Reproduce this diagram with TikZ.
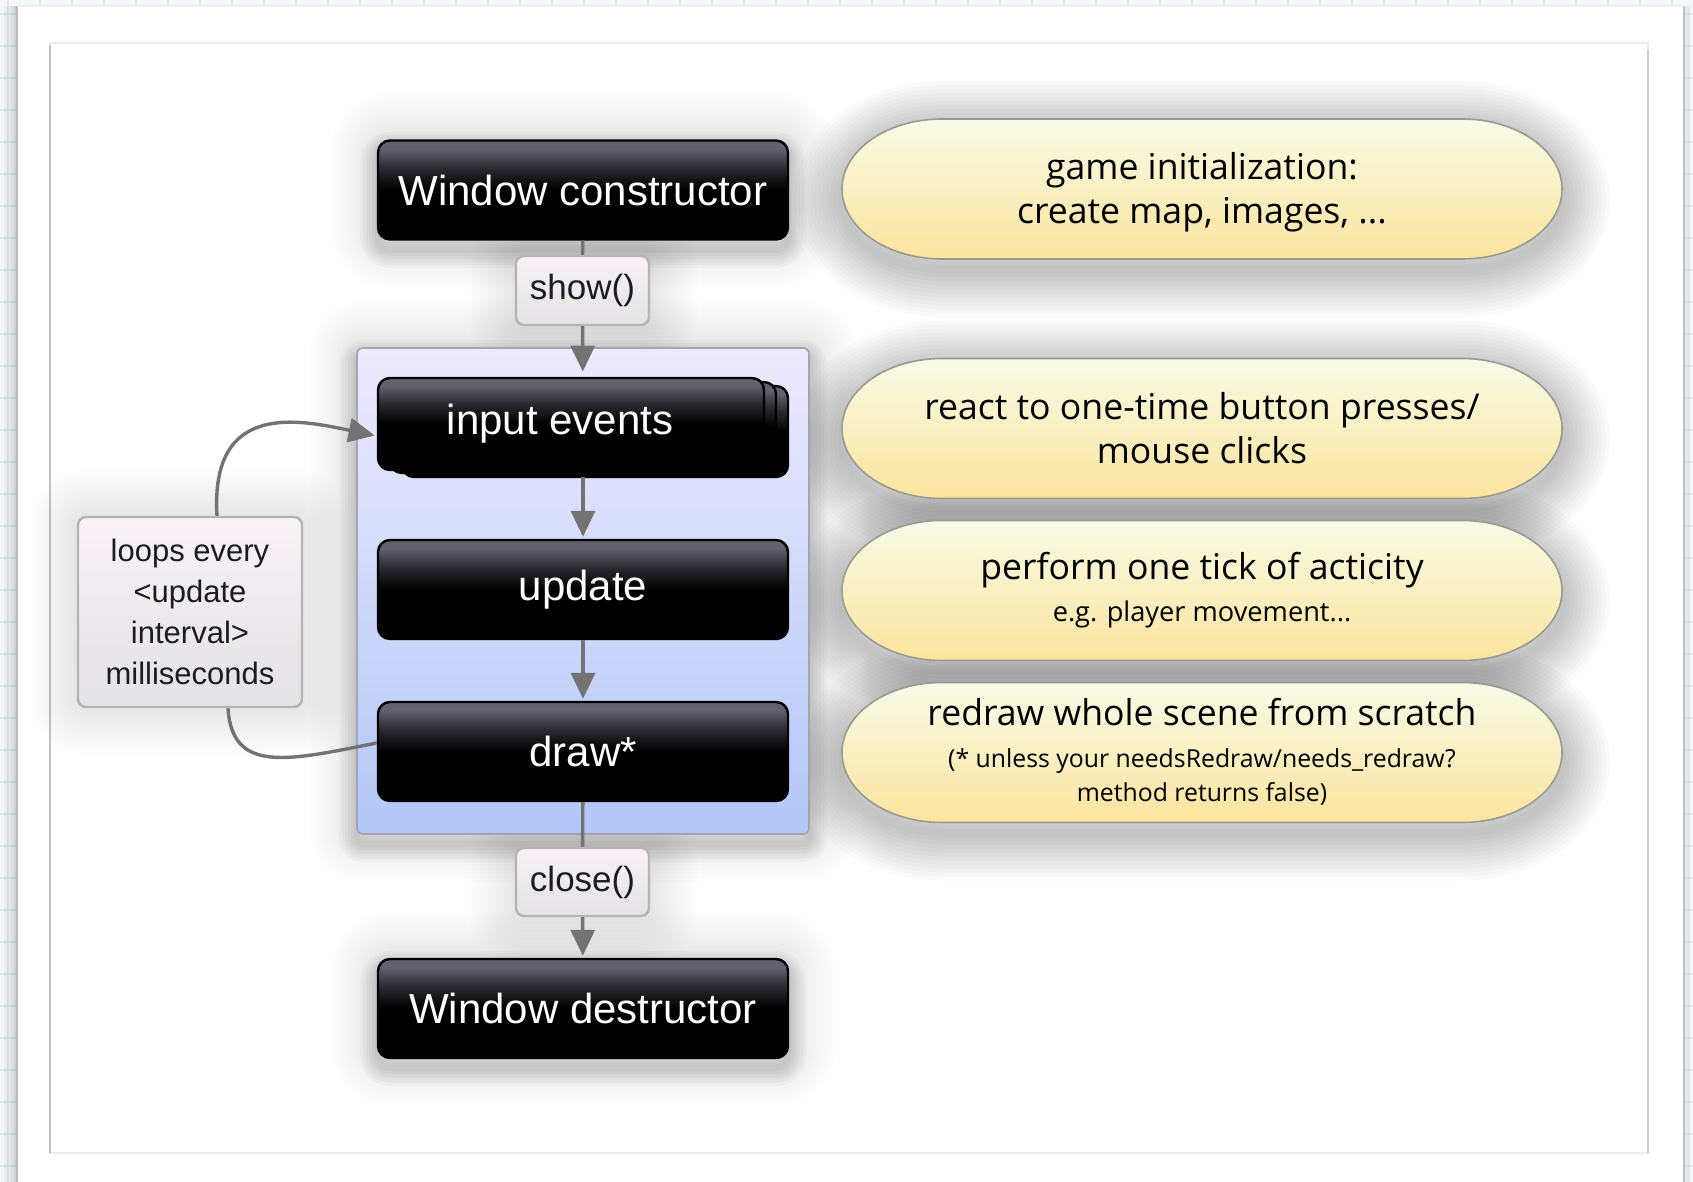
\documentclass[tikz,border=0pt]{standalone}
\usepackage{fontspec}
\setmainfont{Liberation Sans}
\newfontfamily\pillfont{Open Sans}
\usetikzlibrary{arrows.meta,calc}
\definecolor{gridbg}{HTML}{F3F7F9}
\definecolor{gridline}{HTML}{DCE8EE}
\definecolor{arrowgray}{HTML}{737373}
\definecolor{lavtop}{HTML}{EEEAFD}
\definecolor{lavbot}{HTML}{B2C7F8}
\definecolor{lavborder}{HTML}{A3A3B3}
\definecolor{labtop}{HTML}{F9F2F6}
\definecolor{labbot}{HTML}{E3E2E4}
\definecolor{labborder}{HTML}{B4B4B4}
\definecolor{pilltop}{HTML}{F7FBE7}
\definecolor{pillbot}{HTML}{FBE49E}
\definecolor{pillborder}{HTML}{9A9A90}
\definecolor{txt}{HTML}{1C1C24}
\definecolor{glossA}{HTML}{63616D}
\definecolor{glossB}{HTML}{2A2930}
\pgfdeclareverticalshading{blackgloss}{100bp}{color(0bp)=(black); color(50bp)=(black); color(61bp)=(glossB); color(71bp)=(glossA); color(75bp)=(glossA); color(100bp)=(glossA)}
\tikzset{
  halo/.style={
    preaction={draw=black, draw opacity=0.007, line width=48pt, line join=round},
    preaction={draw=black, draw opacity=0.007, line width=44pt, line join=round},
    preaction={draw=black, draw opacity=0.007, line width=40pt, line join=round},
    preaction={draw=black, draw opacity=0.007, line width=36pt, line join=round},
    preaction={draw=black, draw opacity=0.007, line width=32pt, line join=round},
    preaction={draw=black, draw opacity=0.007, line width=28pt, line join=round},
    preaction={draw=black, draw opacity=0.007, line width=24pt, line join=round},
    preaction={draw=black, draw opacity=0.007, line width=20pt, line join=round},
    preaction={draw=black, draw opacity=0.007, line width=16pt, line join=round},
    preaction={draw=black, draw opacity=0.007, line width=12pt, line join=round},
    preaction={draw=black, draw opacity=0.007, line width=8pt, line join=round},
    preaction={draw=black, draw opacity=0.007, line width=4pt, line join=round}},
  dropshadow/.style={
    preaction={draw=black, draw opacity=0.022, line width=18pt, line join=round, transform canvas={yshift=-5pt}},
    preaction={draw=black, draw opacity=0.022, line width=15pt, line join=round, transform canvas={yshift=-5pt}},
    preaction={draw=black, draw opacity=0.022, line width=12pt, line join=round, transform canvas={yshift=-5pt}},
    preaction={draw=black, draw opacity=0.022, line width=9pt, line join=round, transform canvas={yshift=-5pt}},
    preaction={draw=black, draw opacity=0.022, line width=6pt, line join=round, transform canvas={yshift=-5pt}},
    preaction={draw=black, draw opacity=0.022, line width=3pt, line join=round, transform canvas={yshift=-5pt}}},
  pillshadow/.style={
    preaction={draw=black, draw opacity=0.02, line width=48pt, line join=round, transform canvas={yshift=-5pt}},
    preaction={draw=black, draw opacity=0.02, line width=44pt, line join=round, transform canvas={yshift=-5pt}},
    preaction={draw=black, draw opacity=0.02, line width=40pt, line join=round, transform canvas={yshift=-5pt}},
    preaction={draw=black, draw opacity=0.02, line width=36pt, line join=round, transform canvas={yshift=-5pt}},
    preaction={draw=black, draw opacity=0.02, line width=32pt, line join=round, transform canvas={yshift=-5pt}},
    preaction={draw=black, draw opacity=0.02, line width=28pt, line join=round, transform canvas={yshift=-5pt}},
    preaction={draw=black, draw opacity=0.02, line width=24pt, line join=round, transform canvas={yshift=-5pt}},
    preaction={draw=black, draw opacity=0.02, line width=20pt, line join=round, transform canvas={yshift=-5pt}},
    preaction={draw=black, draw opacity=0.02, line width=16pt, line join=round, transform canvas={yshift=-5pt}},
    preaction={draw=black, draw opacity=0.02, line width=12pt, line join=round, transform canvas={yshift=-5pt}},
    preaction={draw=black, draw opacity=0.02, line width=8pt, line join=round, transform canvas={yshift=-5pt}},
    preaction={draw=black, draw opacity=0.02, line width=4pt, line join=round, transform canvas={yshift=-5pt}}},
  pillpath/.style 2 args={insert path={(#1-260,#2-70) -- (#1+260,#2-70)
      arc[start angle=90,end angle=-90,x radius=50pt,y radius=35pt] -- (#1-260,#2+70)
      arc[start angle=270,end angle=90,x radius=50pt,y radius=35pt] -- cycle}},
  pillfill/.style={draw=pillborder, line width=0.8pt, top color=pilltop, bottom color=pillbot},
  blackbox/.style={rounded corners=6pt, draw=black, line width=1.2pt, shading=blackgloss,
      minimum width=205pt, minimum height=49.5pt, inner sep=0pt, text=white,
      font=\fontsize{21}{25}\selectfont},
  boxtext/.style={inner sep=0pt, text=white, font=\fontsize{21}{25}\selectfont},
  stackbox/.style={rounded corners=6pt, draw=black, line width=1.2pt, shading=blackgloss},
  lab/.style={rounded corners=4pt, draw=labborder, line width=1.2pt, top color=labtop,
      bottom color=labbot, text=txt, inner sep=0pt},
  container/.style={rounded corners=3pt, draw=lavborder, line width=0.8pt, top color=lavtop,
      bottom color=lavbot, minimum width=226pt, minimum height=243pt, inner sep=0pt},
  pilltext/.style={text=black, align=center, inner sep=0pt,
      font=\pillfont\fontsize{17.8}{22}\selectfont},
  conn/.style={draw=arrowgray, line width=1.7pt},
  arr/.style={conn, -{Triangle[width=12pt,length=13pt]}, arrowgray},
}
\begin{document}
\begin{tikzpicture}[x=0.5pt,y=-0.5pt]
\useasboundingbox (0,0) rectangle (1693,1182);
% background grid and page
\fill[gridbg] (0,0) rectangle (1693,1182);
\foreach \x in {8,40,...,1693} \draw[gridline, line width=0.6pt] (\x,0) -- (\x,1182);
\foreach \y in {14,46,...,1182} \draw[gridline, line width=0.6pt] (0,\y) -- (1693,\y);
\fill[white] (17,6) rectangle (1684,1182);
\fill[black, opacity=0.04] (4,6) rectangle (17,1182);
\fill[black, opacity=0.05] (10,6) rectangle (17,1182);
\fill[black, opacity=0.06] (14,6) rectangle (17,1182);
\draw[black!28, line width=0.8pt] (17,6) -- (17,1182);
\fill[black, opacity=0.06] (1684,6) rectangle (1690,1182);
\draw[black!25, line width=0.8pt] (1684,6) -- (1684,1182);
\draw[black!6, line width=0.8pt] (17,6) -- (1684,6);
% inner frame
\draw[black!7, line width=1pt] (50,43) rectangle (1648,1153);
\draw[black!24, line width=1.2pt] (50,45) -- (50,1153);
\draw[black!20, line width=1pt] (1648,50) -- (1648,1153);
% halos
\path[halo, rounded corners=6pt] (378,140) rectangle (788,240);
\path[halo, rounded corners=4pt] (516,256) rectangle (649,325);
\path[halo, rounded corners=3pt] (357,348) rectangle (809,834);
\path[halo, rounded corners=4pt] (516,848) rectangle (649,916);
\path[halo, rounded corners=6pt] (378,959) rectangle (788,1058);
\path[halo, rounded corners=4pt] (78,517) rectangle (302,707);
\path[dropshadow, rounded corners=6pt] (378,140) rectangle (788,240);
\path[dropshadow, rounded corners=6pt] (378,959) rectangle (788,1058);
\path[dropshadow, rounded corners=3pt] (357,348) rectangle (809,834);
\path[pillshadow, pillpath={1202}{189}];
\path[pillshadow, pillpath={1202}{428.5}];
\path[pillshadow, pillpath={1202}{590.5}];
\path[pillshadow, pillpath={1202}{752.5}];
% pills
\path[pillfill, pillpath={1202}{189}];
\path[pillfill, pillpath={1202}{428.5}];
\path[pillfill, pillpath={1202}{590.5}];
\path[pillfill, pillpath={1202}{752.5}];
\node[pilltext] (p1) at (1202,192) {game initialization:\\create map, images, ...};
\node[pilltext] (p2) at (1202,428) {react to one-time button presses/\\mouse clicks};
\node[pilltext] (p3) at (1202,590) {perform one tick of acticity\\[-1pt]{\fontsize{13.6}{16}\selectfont e.g. player movement...}};
\node[pilltext] (p4) at (1202,752) {redraw whole scene from scratch\\[-1pt]{\fontsize{12.4}{15}\selectfont (* unless your needsRedraw/needs\_redraw?}\\[-5pt]{\fontsize{12.4}{15}\selectfont method returns false)}};
% main column
\node[blackbox] (wc) at (583,190) {Window constructor};
\node[lab, minimum width=66.5pt, minimum height=34.5pt, font=\fontsize{17.5}{20}\selectfont] (show) at (582.5,290.5) {show()};
\node[container] (loop) at (583,591) {};
\path[stackbox] (402,386) rectangle (788,477);
\path[stackbox] (390,382) rectangle (776,473);
\path[stackbox] (378,378) rectangle (764,470);
\node[inner sep=0pt, minimum width=205pt, minimum height=49.5pt] (ie) at (583,427.5) {};
\node[boxtext] (ielabel) at (560,424) {input events};
\node[blackbox] (up) at (583,589.5) {update};
\node[blackbox] (dr) at (583,751.5) {draw*};
\node[lab, minimum width=66.5pt, minimum height=34pt, font=\fontsize{17.5}{20}\selectfont] (close) at (582.5,882) {close()};
\node[blackbox] (wd) at (583,1008.5) {Window destructor};
\node[lab, minimum width=112pt, minimum height=95pt, align=center, font=\fontsize{15.5}{20.5}\selectfont] (loops) at (190,612) {loops every\\<update\\interval>\\milliseconds};
% connectors
\draw[conn] (wc) -- (show);
\draw[arr, shorten >=3pt] (show) -- (ie);
\draw[arr, shorten >=1pt] (ie) -- (up);
\draw[arr, shorten >=1pt] (up) -- (dr);
\draw[conn] (dr) -- (close);
\draw[arr, shorten >=1pt] (close) -- (wd);
\draw[arr] ($(loops.north)+(27,0)$) .. controls (210,400) and (300,420) .. ($(ie.west)+(-3,8)$);
\draw[conn] ($(dr.west)+(0,-8.5)$) .. controls (290,760) and (232,775) .. ($(loops.south)+(38,0)$);
\end{tikzpicture}
\end{document}
